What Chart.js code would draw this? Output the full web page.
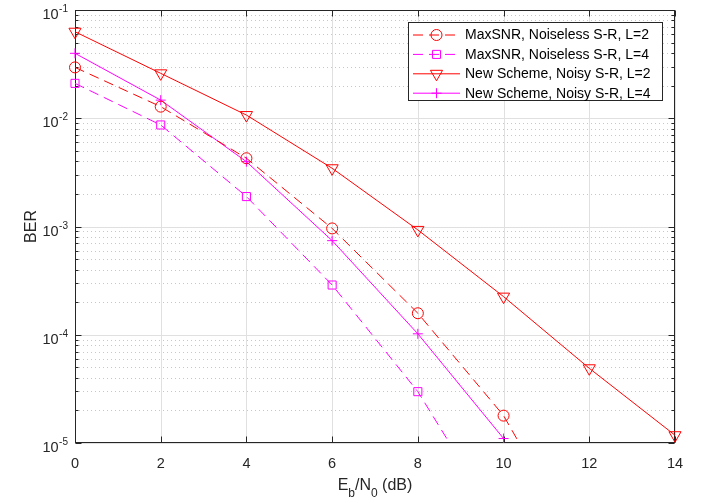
<!DOCTYPE html>
<html>
<head>
<meta charset="utf-8">
<script src="https://cdn.jsdelivr.net/npm/chart.js@4.4.0/dist/chart.umd.min.js"></script>
<style>
  html, body { margin: 0; padding: 0; background: #fff; }
  #wrap { width: 709px; height: 503px; }
</style>
</head>
<body>
<div id="wrap"><canvas id="berChart" width="709" height="503"></canvas></div>
<script>
// --- Data ---
const ebN0 = [0, 2, 4, 6, 8, 10, 12, 14];
const xTicks = [0, 2, 4, 6, 8, 10, 12, 14];
const yDecades = [-5, -4, -3, -2, -1];

const berMaxSnrL2 = [0.0295, 0.0128, 0.00427, 9.6e-4, 1.58e-4, 1.79e-5, 7.4e-7];
const berMaxSnrL4 = [0.021, 0.00867, 0.00189, 2.88e-4, 2.98e-5, 1.55e-6];
const berNewL2 = [0.063, 0.026, 0.0107, 0.00345, 9.3e-4, 2.25e-4, 4.9e-5, 1.18e-5];
const berNewL4 = [0.0398, 0.0147, 0.00397, 7.4e-4, 1.02e-4, 1.1e-5];

const seriesLabels = [
  'MaxSNR, Noiseless S-R, L=2',
  'MaxSNR, Noiseless S-R, L=4',
  'New Scheme, Noisy S-R, L=2',
  'New Scheme, Noisy S-R, L=4'
];

const AXIS = '#262626';
const FONT = '"Liberation Sans", Arial, Helvetica, sans-serif';
const DASH = [10, 6];
// markers may overhang the frame, but curves stop at the bottom edge
const CLIP_BOTTOM = { left: 10, top: 10, right: 10, bottom: 0 };

function toPoints(vals) {
  return vals.map((v, i) => ({ x: ebN0[i], y: v }));
}

function series(label, vals, color, dash, style, radius, rotation) {
  return {
    label: label,
    data: toPoints(vals),
    borderColor: color,
    borderWidth: 1,
    borderDash: dash,
    tension: 0,
    fill: false,
    clip: CLIP_BOTTOM,
    pointStyle: style,
    pointRadius: radius,
    pointRotation: rotation || 0,
    pointBorderColor: color,
    pointBackgroundColor: 'rgba(0,0,0,0)',
    pointBorderWidth: 1
  };
}

// grid, box, ticks, labels and legend in MATLAB style
const axesFrame = {
  id: 'axesFrame',
  beforeDatasetsDraw(chart) {
    const { ctx, chartArea: a, scales: { x, y } } = chart;
    ctx.save();
    ctx.lineWidth = 1;

    // minor dotted grid
    ctx.strokeStyle = '#c8c8c8';
    ctx.setLineDash([1, 3]);
    for (let k = -5; k < -1; k++) {
      for (let m = 2; m <= 9; m++) {
        const py = Math.round(y.getPixelForValue(m * Math.pow(10, k))) + 0.5;
        ctx.beginPath();
        ctx.moveTo(a.left, py);
        ctx.lineTo(a.right, py);
        ctx.stroke();
      }
    }

    // major grid
    ctx.setLineDash([]);
    ctx.strokeStyle = '#e0e0e0';
    yDecades.forEach(k => {
      const py = Math.round(y.getPixelForValue(Math.pow(10, k))) + 0.5;
      ctx.beginPath();
      ctx.moveTo(a.left, py);
      ctx.lineTo(a.right, py);
      ctx.stroke();
    });
    xTicks.forEach(t => {
      const px = Math.round(x.getPixelForValue(t)) + 0.5;
      ctx.beginPath();
      ctx.moveTo(px, a.top);
      ctx.lineTo(px, a.bottom);
      ctx.stroke();
    });

    // frame sits under the curves
    const L = Math.round(a.left) + 0.5, R = Math.round(a.right) - 0.5;
    const T = Math.round(a.top) + 0.5, B = Math.round(a.bottom) - 0.5;
    ctx.strokeStyle = AXIS;
    ctx.strokeRect(L, T, R - L, B - T);

    // tick marks pointing inward
    ctx.beginPath();
    xTicks.forEach(t => {
      const px = Math.round(x.getPixelForValue(t)) + 0.5;
      ctx.moveTo(px, B); ctx.lineTo(px, B - 6);
      ctx.moveTo(px, T); ctx.lineTo(px, T + 6);
    });
    for (let k = -5; k <= -1; k++) {
      for (let m = 1; m <= 9; m++) {
        if (k === -1 && m > 1) break;
        const py = Math.round(y.getPixelForValue(m * Math.pow(10, k))) + 0.5;
        const len = m === 1 ? 6 : 3;
        ctx.moveTo(L, py); ctx.lineTo(L + len, py);
        ctx.moveTo(R, py); ctx.lineTo(R - len, py);
      }
    }
    ctx.stroke();
    ctx.restore();
  },

  afterDatasetsDraw(chart) {
    const { ctx, chartArea: a, scales: { x, y } } = chart;
    ctx.save();

    // x tick labels
    ctx.fillStyle = AXIS;
    ctx.font = '14.5px ' + FONT;
    ctx.textAlign = 'center';
    ctx.textBaseline = 'alphabetic';
    xTicks.forEach(t => {
      ctx.fillText(String(t), x.getPixelForValue(t), a.bottom + 25);
    });

    // y tick labels: 10 with raised exponent
    yDecades.forEach(k => {
      const py = y.getPixelForValue(Math.pow(10, k));
      ctx.font = '10px ' + FONT;
      ctx.textAlign = 'right';
      const exp = String(k);
      ctx.fillText(exp, a.left - 7, py + 2);
      const ew = ctx.measureText(exp).width;
      ctx.font = '14.5px ' + FONT;
      ctx.fillText('10', a.left - 7 - ew - 0.5, py + 9);
    });

    // axis titles
    ctx.textAlign = 'left';
    const parts = [['E', 0], ['b', 1], ['/N', 0], ['0', 1], [' (dB)', 0]];
    let total = 0;
    parts.forEach(p => {
      ctx.font = (p[1] ? '12px ' : '16px ') + FONT;
      total += ctx.measureText(p[0]).width;
    });
    let cx = (a.left + a.right) / 2 - total / 2;
    parts.forEach(p => {
      ctx.font = (p[1] ? '12px ' : '16px ') + FONT;
      ctx.fillText(p[0], cx, a.bottom + (p[1] ? 54 : 47));
      cx += ctx.measureText(p[0]).width;
    });

    ctx.save();
    ctx.translate(36, (a.top + a.bottom) / 2);
    ctx.rotate(-Math.PI / 2);
    ctx.font = '16px ' + FONT;
    ctx.textAlign = 'center';
    ctx.fillText('BER', 0, 0);
    ctx.restore();

    ctx.restore();
  },

  afterDraw(chart) {
    const { ctx } = chart;
    const box = { x: 408.5, y: 22.5, w: 254, h: 78 };
    ctx.save();
    ctx.fillStyle = '#fff';
    ctx.fillRect(box.x, box.y, box.w, box.h);
    ctx.strokeStyle = AXIS;
    ctx.lineWidth = 1;
    ctx.strokeRect(box.x, box.y, box.w, box.h);

    chart.data.datasets.forEach((ds, i) => {
      const ry = 35 + i * 19.4;
      ctx.strokeStyle = ds.borderColor;
      ctx.setLineDash(ds.borderDash || []);
      ctx.beginPath();
      ctx.moveTo(413, ry);
      ctx.lineTo(460, ry);
      ctx.stroke();
      ctx.setLineDash([]);
      ctx.fillStyle = 'rgba(0,0,0,0)';
      Chart.helpers.drawPoint(ctx, {
        pointStyle: ds.pointStyle,
        radius: ds.pointRadius,
        rotation: ds.pointRotation,
        borderWidth: 1
      }, 436.5, ry);
      ctx.fillStyle = '#000';
      ctx.font = '14px ' + FONT;
      ctx.textAlign = 'left';
      ctx.textBaseline = 'middle';
      ctx.fillText(ds.label, 465, ry + 0.5);
    });
    ctx.restore();
  }
};

new Chart(document.getElementById('berChart'), {
  type: 'line',
  data: {
    datasets: [
      series(seriesLabels[0], berMaxSnrL2, '#ff0000', DASH, 'circle', 5.5),
      series(seriesLabels[1], berMaxSnrL4, '#ff00ff', DASH, 'rect', 5.7),
      series(seriesLabels[2], berNewL2, '#ff0000', [], 'triangle', 7, 180),
      series(seriesLabels[3], berNewL4, '#ff00ff', [], 'cross', 5)
    ]
  },
  options: {
    responsive: false,
    animation: false,
    devicePixelRatio: 1,
    layout: { padding: { left: 0, top: 10, right: 34, bottom: 0 } },
    plugins: { legend: { display: false }, tooltip: { enabled: false } },
    scales: {
      x: {
        type: 'linear',
        min: 0,
        max: 14,
        grid: { display: false },
        border: { display: false },
        ticks: { display: false },
        afterFit: s => { s.height = 60; }
      },
      y: {
        type: 'logarithmic',
        min: 1e-5,
        max: 1e-1,
        grid: { display: false },
        border: { display: false },
        ticks: { display: false },
        afterFit: s => { s.width = 75; }
      }
    }
  },
  plugins: [axesFrame]
});
</script>
</body>
</html>
